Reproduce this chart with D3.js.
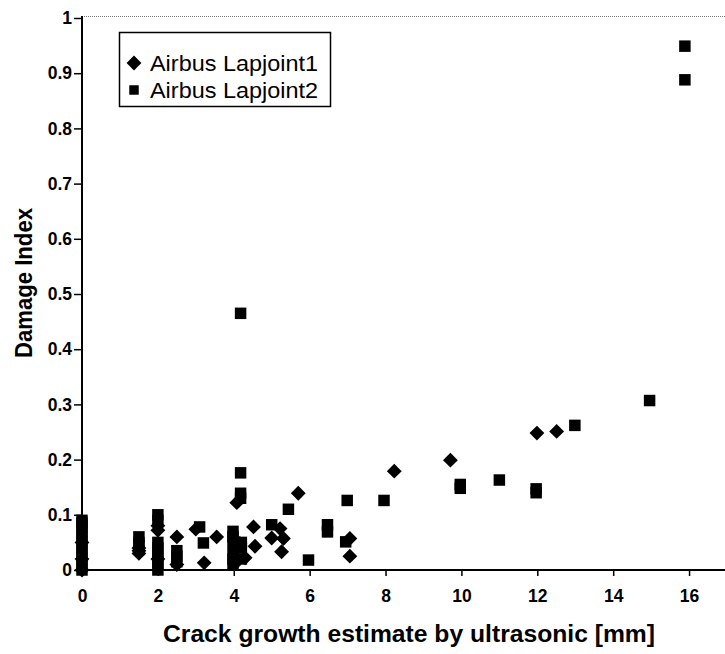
<!DOCTYPE html>
<html>
<head>
<meta charset="utf-8">
<script src="https://cdn.jsdelivr.net/npm/d3@7"></script>
<style>
  html, body { margin: 0; padding: 0; background: #fff; }
  svg { display: block; }
</style>
</head>
<body>
<svg id="chart" width="725" height="654"></svg>
<script>
// Crack growth (mm) vs damage index, two lap-joint specimens
const seriesNames = ["Airbus Lapjoint1", "Airbus Lapjoint2"];

const lap1X = [0, 0, 0, 1.5, 1.5, 1.5, 2, 2, 2, 2.5, 2.5, 3.0, 3.22, 3.55,
  4.08, 4.08, 4.16, 4.3, 4.52, 4.56, 5.0, 5.22, 5.31, 5.26, 5.7,
  7.06, 7.06, 8.23, 9.71, 11.99, 12.51];
const lap1Y = [0, 0.02, 0.05, 0.04, 0.035, 0.03, 0.08, 0.072, 0.02, 0.06, 0.01, 0.074, 0.013, 0.06,
  0.122, 0.015, 0.048, 0.022, 0.078, 0.043, 0.058, 0.075, 0.057, 0.033, 0.139,
  0.057, 0.025, 0.179, 0.199, 0.248, 0.251];

const lap2X = [0, 0, 0, 0, 0, 0, 0, 0, 0, 0, 0,
  1.5, 1.5, 1.5,
  2, 2, 2, 2, 2, 2, 2, 2,
  2.5, 2.5, 2.5, 3.1, 3.2,
  3.98, 3.98, 3.98, 3.98, 3.98, 3.98,
  4.18, 4.18, 4.18, 4.18, 4.2, 4.2, 4.2,
  5.0, 5.44, 5.97, 6.47, 6.47, 6.99, 6.95,
  7.96, 9.97, 9.97, 11.0, 11.97, 11.97, 12.99, 14.96, 15.89, 15.89];
const lap2Y = [0.09, 0.085, 0.08, 0.07, 0.06, 0.05, 0.04, 0.03, 0.02, 0.01, 0,
  0.06, 0.05, 0.045,
  0.1, 0.09, 0.05, 0.04, 0.03, 0.02, 0.01, 0,
  0.035, 0.025, 0.015, 0.078, 0.049,
  0.07, 0.06, 0.05, 0.03, 0.02, 0.01,
  0.465, 0.176, 0.139, 0.13, 0.05, 0.04, 0.02,
  0.082, 0.110, 0.018, 0.082, 0.069, 0.126, 0.051,
  0.126, 0.155, 0.148, 0.163, 0.147, 0.14, 0.262, 0.307, 0.949, 0.888];

const xTicks = [0, 2, 4, 6, 8, 10, 12, 14, 16];
const yTicks = [0, 0.1, 0.2, 0.3, 0.4, 0.5, 0.6, 0.7, 0.8, 0.9, 1];
const yTickLabels = ["0", "0.1", "0.2", "0.3", "0.4", "0.5", "0.6", "0.7", "0.8", "0.9", "1"];

const xTitle = "Crack growth estimate by ultrasonic [mm]";
const yTitle = "Damage Index";

const svg = d3.select("#chart");
const plotLeft = 82, plotRight = 727, plotTop = 18, plotBottom = 570;

const x = d3.scaleLinear().domain([0, 17]).range([plotLeft, plotRight]);
const y = d3.scaleLinear().domain([0, 1]).range([plotBottom, plotTop]);

const tickFont = "'Liberation Sans', Arial, sans-serif";

// top frame line (dotted grey)
svg.append("line")
  .attr("x1", plotLeft).attr("x2", 725)
  .attr("y1", 16.5).attr("y2", 16.5)
  .attr("stroke", "#777").attr("stroke-width", 1)
  .attr("stroke-dasharray", "1,1");

// y axis
const yAxis = svg.append("g")
  .attr("transform", `translate(${plotLeft},0)`)
  .call(d3.axisLeft(y).tickValues(yTicks)
    .tickFormat((d, i) => yTickLabels[i]).tickSize(8).tickPadding(2));
yAxis.select(".domain").attr("stroke", "#000").attr("stroke-width", 2)
  .attr("d", `M0,${y(1) - 2}V${plotBottom}`);
yAxis.selectAll(".tick line").attr("stroke", "#000").attr("stroke-width", 1.5);
yAxis.selectAll(".tick text")
  .attr("font-family", tickFont).attr("font-weight", "bold")
  .attr("font-size", 17.5).attr("fill", "#000");

// x axis
const xAxis = svg.append("g")
  .attr("transform", `translate(0,${plotBottom})`)
  .call(d3.axisBottom(x).tickValues(xTicks).tickSize(6).tickPadding(14));
xAxis.select(".domain").attr("stroke", "#000").attr("stroke-width", 2)
  .attr("d", `M${plotLeft},0H725`);
xAxis.selectAll(".tick line").attr("stroke", "#000").attr("stroke-width", 1.5);
xAxis.selectAll(".tick text")
  .attr("font-family", tickFont).attr("font-weight", "bold")
  .attr("font-size", 17.5).attr("fill", "#000");

// axis titles
svg.append("text")
  .attr("x", 409).attr("y", 642)
  .attr("text-anchor", "middle")
  .attr("font-family", tickFont).attr("font-weight", "bold")
  .attr("font-size", 23)
  .attr("textLength", 492).attr("lengthAdjust", "spacingAndGlyphs")
  .text(xTitle);

svg.append("text")
  .attr("transform", "translate(32,283) rotate(-90)")
  .attr("text-anchor", "middle")
  .attr("font-family", tickFont).attr("font-weight", "bold")
  .attr("font-size", 23)
  .attr("textLength", 150).attr("lengthAdjust", "spacingAndGlyphs")
  .text(yTitle);

// markers
const square = d3.symbol().type(d3.symbolSquare).size(132);
const diamond = d3.symbol().type(d3.symbolSquare).size(110);

const lap2 = lap2X.map((v, i) => ({ x: v, y: lap2Y[i] }));
const lap1 = lap1X.map((v, i) => ({ x: v, y: lap1Y[i] }));

svg.append("g").selectAll("path")
  .data(lap2).join("path")
  .attr("d", square)
  .attr("transform", d => `translate(${x(d.x)},${y(d.y)})`)
  .attr("fill", "#000");

svg.append("g").selectAll("path")
  .data(lap1).join("path")
  .attr("d", diamond)
  .attr("transform", d => `translate(${x(d.x)},${y(d.y)}) rotate(45)`)
  .attr("fill", "#000");

// legend
const legend = svg.append("g");
legend.append("rect")
  .attr("x", 119.5).attr("y", 32.5).attr("width", 211).attr("height", 74)
  .attr("fill", "#fff").attr("stroke", "#000").attr("stroke-width", 1.5);

const legendRows = [
  { name: seriesNames[0], sym: diamond, rot: 45, cy: 63 },
  { name: seriesNames[1], sym: d3.symbol().type(d3.symbolSquare).size(90), rot: 0, cy: 90 }
];
legendRows.forEach(r => {
  legend.append("path")
    .attr("d", r.sym)
    .attr("transform", `translate(134,${r.cy}) rotate(${r.rot})`)
    .attr("fill", "#000");
  legend.append("text")
    .attr("x", 150).attr("y", r.cy + 8)
    .attr("font-family", tickFont).attr("font-size", 22)
    .attr("textLength", 168).attr("lengthAdjust", "spacingAndGlyphs")
    .text(r.name);
});
</script>
</body>
</html>
